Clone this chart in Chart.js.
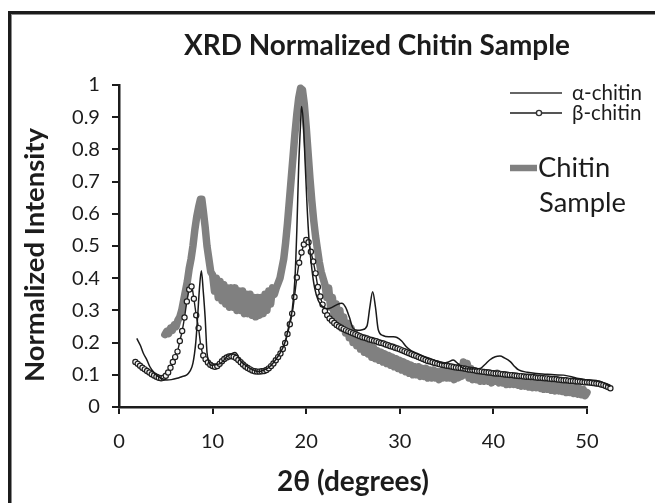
<!DOCTYPE html>
<html><head><meta charset="utf-8">
<script src="https://cdn.jsdelivr.net/npm/chart.js@4.4.1/dist/chart.umd.min.js"></script>
<style>
html,body{margin:0;padding:0;background:#fff;width:655px;height:503px;overflow:hidden}
#frame{position:absolute;left:8px;top:11px;width:700px;height:600px;border-left:3px solid #1c1c1c;border-top:3px solid #1c1c1c;box-shadow:inset 1px 1px 0 #8c8c8c}
#c{position:absolute;left:0;top:0}
</style></head><body>
<div id="frame"></div>
<canvas id="c" width="655" height="503"></canvas>
<script>
// ---- data ----
const chartTitle = 'XRD Normalized Chitin Sample';
const xTitle = '2θ (degrees)';
const yTitle = 'Normalized Intensity';
const seriesNames = ['α-chitin', 'β-chitin', 'Chitin'];
const seriesNames2 = ['', '', 'Sample'];
const xTickValues = [0, 10, 20, 30, 40, 50];
const xTickLabels = ['0', '10', '20', '30', '40', '50'];
const yTickValues = [0, 0.1, 0.2, 0.3, 0.4, 0.5, 0.6, 0.7, 0.8, 0.9, 1];
const yTickLabels = ['0', '0.1', '0.2', '0.3', '0.4', '0.5', '0.6', '0.7', '0.8', '0.9', '1'];

const alphaX = [1.9,2.3,2.6,3.0,3.3,3.8,4.2,4.7,5.1,5.6,6.2,6.7,7.2,7.6,7.9,8.2,8.4,8.6,8.8,9.0,9.2,9.4,9.6,9.9,10.4,10.8,11.2,11.5,12.0,12.4,12.7,12.9,13.4,14.0,14.5,14.9,15.5,16.1,16.7,17.2,17.6,17.9,18.2,18.5,18.8,19.0,19.2,19.4,19.5,19.7,19.9,20.1,20.3,20.6,20.9,21.3,21.8,22.3,22.8,23.3,23.8,24.2,24.6,25.0,25.5,26.0,26.5,26.8,27.1,27.4,27.7,28.2,28.8,29.3,29.7,30.2,30.7,31.2,31.8,32.5,33.2,34.0,34.7,35.2,35.7,36.2,36.8,37.6,38.6,39.1,39.6,40.2,40.7,41.2,41.8,42.3,42.7,43.6,44.6,45.5,46.5,47.5,48.2,48.9,49.8,51.0,51.8,52.5];
const alphaY = [0.213,0.19,0.167,0.145,0.125,0.105,0.094,0.087,0.084,0.085,0.089,0.094,0.099,0.112,0.136,0.2,0.28,0.37,0.423,0.36,0.28,0.17,0.14,0.13,0.132,0.135,0.145,0.156,0.165,0.169,0.16,0.146,0.132,0.12,0.113,0.11,0.115,0.125,0.145,0.167,0.19,0.218,0.26,0.30,0.40,0.55,0.75,0.88,0.933,0.88,0.75,0.62,0.52,0.43,0.37,0.33,0.31,0.305,0.31,0.318,0.322,0.31,0.28,0.245,0.238,0.24,0.252,0.31,0.358,0.31,0.24,0.222,0.218,0.218,0.216,0.205,0.187,0.175,0.167,0.158,0.151,0.142,0.136,0.14,0.146,0.135,0.12,0.118,0.12,0.132,0.146,0.156,0.158,0.152,0.141,0.125,0.115,0.108,0.104,0.102,0.10,0.099,0.095,0.089,0.085,0.082,0.075,0.063];

const betaX = [1.75,2,2.25,2.5,2.75,3,3.25,3.5,3.75,4,4.25,4.5,4.75,5,5.25,5.5,5.75,6,6.25,6.5,6.75,7,7.25,7.5,7.75,8,8.25,8.5,8.75,9,9.25,9.5,9.75,10,10.25,10.5,10.75,11,11.25,11.5,11.75,12,12.25,12.5,12.75,13,13.25,13.5,13.75,14,14.25,14.5,14.75,15,15.25,15.5,15.75,16,16.25,16.5,16.75,17,17.25,17.5,17.75,18,18.25,18.5,18.75,19,19.25,19.5,19.75,20,20.25,20.5,20.75,21,21.25,21.5,21.75,22,22.25,22.5,22.75,23,23.25,23.5,23.75,24,24.25,24.5,24.75,25,25.25,25.5,25.75,26,26.25,26.5,26.75,27,27.25,27.5,27.75,28,28.25,28.5,28.75,29,29.25,29.5,29.75,30,30.25,30.5,30.75,31,31.25,31.5,31.75,32,32.25,32.5,32.75,33,33.25,33.5,33.75,34,34.25,34.5,34.75,35,35.25,35.5,35.75,36,36.25,36.5,36.75,37,37.25,37.5,37.75,38,38.25,38.5,38.75,39,39.25,39.5,39.75,40,40.25,40.5,40.75,41,41.25,41.5,41.75,42,42.25,42.5,42.75,43,43.25,43.5,43.75,44,44.25,44.5,44.75,45,45.25,45.5,45.75,46,46.25,46.5,46.75,47,47.25,47.5,47.75,48,48.25,48.5,48.75,49,49.25,49.5,49.75,50,50.25,50.5,50.75,51,51.25,51.5,51.75,52,52.25,52.5];
const betaY = [0.140,0.134,0.128,0.122,0.117,0.112,0.107,0.102,0.098,0.094,0.091,0.089,0.091,0.097,0.107,0.122,0.140,0.155,0.172,0.205,0.236,0.278,0.328,0.365,0.374,0.336,0.285,0.245,0.188,0.160,0.148,0.138,0.131,0.127,0.125,0.127,0.134,0.142,0.149,0.154,0.157,0.158,0.156,0.152,0.146,0.139,0.132,0.126,0.121,0.117,0.113,0.111,0.110,0.110,0.111,0.112,0.115,0.120,0.127,0.135,0.145,0.155,0.166,0.180,0.199,0.227,0.257,0.290,0.342,0.402,0.448,0.480,0.505,0.519,0.512,0.482,0.452,0.415,0.373,0.343,0.318,0.298,0.285,0.275,0.268,0.261,0.255,0.250,0.246,0.242,0.238,0.235,0.232,0.229,0.226,0.223,0.220,0.217,0.215,0.213,0.210,0.208,0.206,0.204,0.201,0.199,0.197,0.194,0.192,0.189,0.187,0.184,0.182,0.179,0.176,0.173,0.170,0.167,0.164,0.161,0.158,0.155,0.152,0.149,0.146,0.143,0.141,0.139,0.137,0.135,0.133,0.131,0.130,0.128,0.127,0.126,0.124,0.123,0.122,0.121,0.120,0.119,0.117,0.116,0.115,0.114,0.112,0.111,0.110,0.109,0.108,0.107,0.106,0.105,0.104,0.104,0.103,0.102,0.101,0.100,0.099,0.099,0.098,0.097,0.096,0.096,0.095,0.094,0.094,0.093,0.093,0.092,0.091,0.091,0.090,0.089,0.089,0.088,0.087,0.087,0.086,0.085,0.084,0.083,0.083,0.082,0.081,0.081,0.080,0.079,0.079,0.078,0.077,0.077,0.076,0.075,0.074,0.073,0.072,0.070,0.068,0.065,0.062,0.058];

const sampleX = [4.9,5.1,5.3,5.5,5.7,5.9,6.1,6.3,6.5,6.7,6.9,7.1,7.3,7.5,7.7,7.9,8.1,8.3,8.5,8.7,8.85,9.0,9.2,9.4,9.6,9.8,10.0,10.2,10.4,10.6,10.8,11.0,11.2,11.4,11.6,11.8,12.0,12.2,12.4,12.6,12.8,13.0,13.2,13.4,13.6,13.8,14.0,14.2,14.4,14.6,14.8,15.0,15.2,15.4,15.6,15.8,16.0,16.2,16.4,16.6,16.8,17.0,17.2,17.4,17.6,17.8,18.0,18.2,18.4,18.6,18.8,19.0,19.2,19.4,19.6,19.8,20.0,20.2,20.4,20.6,20.8,21.0,21.2,21.4,21.6,21.8,22.0,22.2,22.4,22.6,22.8,23.0,23.2,23.4,23.6,23.8,24.0,24.2,24.4,24.6,24.8,25.0,25.2,25.4,25.6,25.8,26.0,26.2,26.4,26.6,26.8,27.0,27.2,27.4,27.6,27.8,28.0,28.2,28.4,28.6,28.8,29.0,29.2,29.4,29.6,29.8,30.0,30.2,30.4,30.6,30.8,31.0,31.2,31.4,31.6,31.8,32.0,32.2,32.4,32.6,32.8,33.0,33.2,33.4,33.6,33.8,34.0,34.2,34.4,34.6,34.8,35.0,35.2,35.4,35.6,35.8,36.0,36.2,36.4,36.6,36.8,37.0,37.2,37.4,37.6,37.8,38.0,38.2,38.4,38.6,38.8,39.0,39.2,39.4,39.6,39.8,40.0,40.2,40.4,40.6,40.8,41.0,41.2,41.4,41.6,41.8,42.0,42.2,42.4,42.6,42.8,43.0,43.2,43.4,43.6,43.8,44.0,44.2,44.4,44.6,44.8,45.0,45.2,45.4,45.6,45.8,46.0,46.2,46.4,46.6,46.8,47.0,47.2,47.4,47.6,47.8,48.0,48.2,48.4,48.6,48.8,49.0,49.2,49.4,49.6,49.8,50.0];
const sampleY = [0.225,0.235,0.228,0.245,0.238,0.255,0.25,0.27,0.28,0.30,0.33,0.36,0.39,0.43,0.46,0.50,0.55,0.59,0.62,0.645,0.645,0.61,0.56,0.50,0.46,0.42,0.41,0.36,0.40,0.34,0.39,0.33,0.38,0.32,0.37,0.31,0.37,0.31,0.37,0.30,0.36,0.30,0.36,0.29,0.35,0.29,0.35,0.285,0.34,0.28,0.34,0.285,0.34,0.29,0.35,0.30,0.36,0.32,0.37,0.35,0.37,0.385,0.40,0.43,0.46,0.51,0.57,0.64,0.71,0.78,0.85,0.91,0.96,0.99,0.985,0.94,0.87,0.79,0.71,0.64,0.58,0.53,0.49,0.45,0.42,0.40,0.38,0.34,0.37,0.31,0.34,0.28,0.32,0.26,0.30,0.245,0.28,0.23,0.26,0.215,0.245,0.20,0.23,0.19,0.215,0.18,0.205,0.17,0.195,0.165,0.19,0.155,0.185,0.15,0.175,0.145,0.17,0.14,0.165,0.135,0.16,0.13,0.155,0.125,0.15,0.12,0.145,0.115,0.14,0.11,0.135,0.105,0.13,0.10,0.125,0.10,0.125,0.095,0.12,0.095,0.12,0.09,0.115,0.09,0.115,0.09,0.11,0.085,0.11,0.09,0.115,0.09,0.12,0.09,0.115,0.085,0.11,0.09,0.125,0.095,0.14,0.10,0.135,0.09,0.12,0.085,0.11,0.085,0.105,0.08,0.105,0.08,0.10,0.08,0.105,0.075,0.10,0.08,0.105,0.075,0.10,0.075,0.10,0.07,0.095,0.07,0.095,0.07,0.09,0.068,0.09,0.065,0.09,0.065,0.085,0.062,0.085,0.06,0.085,0.06,0.08,0.058,0.08,0.055,0.078,0.055,0.075,0.052,0.075,0.05,0.072,0.05,0.07,0.048,0.068,0.045,0.066,0.045,0.064,0.042,0.06,0.04,0.058,0.038,0.055,0.035,0.045];

// ---- rendering ----
const FONT = 'Lato';
function fitSize(text, weight, target) {
  const c = document.createElement('canvas').getContext('2d');
  c.font = weight + ' 100px ' + FONT;
  return 100 * target / c.measureText(text).width;
}
function pts(xs, ys) { return xs.map((x, i) => ({x: x, y: ys[i]})); }

function build() {
  const titleSize = fitSize(chartTitle, 'bold', 386);
  const yTitleSize = fitSize(yTitle, 'bold', 254);
  const xTitleSize = fitSize(xTitle, 'bold', 152);
  const tickSize = fitSize('0.9', 'normal', 28);
  const legSize = fitSize(seriesNames[0], 'normal', 70);
  const leg2Size = fitSize(seriesNames2[2], 'normal', 87);
  const ink = '#1c1c1c';

  // lets the markers past x = 50 be drawn (the data runs a little beyond the axis end)
  const widenArea = {
    id: 'widenArea',
    beforeDatasetsDraw(chart) { chart._savedRight = chart.chartArea.right; chart.chartArea.right = chart.width; },
    afterDatasetsDraw(chart) { chart.chartArea.right = chart._savedRight; }
  };

  const textPlugin = {
    id: 'texts',
    afterDraw(chart) {
      const ctx = chart.ctx, ca = chart.chartArea;
      ctx.save();
      ctx.fillStyle = ink;
      ctx.textAlign = 'center';
      ctx.textBaseline = 'middle';
      ctx.font = 'bold ' + titleSize + 'px ' + FONT;
      ctx.fillText(chartTitle, 377, 46);
      ctx.font = 'bold ' + xTitleSize + 'px ' + FONT;
      ctx.fillText(xTitle, (ca.left + ca.right) / 2, 482);
      ctx.save();
      ctx.translate(35, 255);
      ctx.rotate(-Math.PI / 2);
      ctx.font = 'bold ' + yTitleSize + 'px ' + FONT;
      ctx.fillText(yTitle, 0, 0);
      ctx.restore();
      // legend
      ctx.textAlign = 'left';
      ctx.strokeStyle = '#333';
      ctx.lineWidth = 1.5;
      ctx.beginPath(); ctx.moveTo(510, 93); ctx.lineTo(562, 93); ctx.stroke();
      ctx.strokeStyle = '#555';
      ctx.lineWidth = 2;
      ctx.beginPath(); ctx.moveTo(510, 113); ctx.lineTo(562, 113); ctx.stroke();
      ctx.fillStyle = '#fff'; ctx.strokeStyle = '#333'; ctx.lineWidth = 1.4;
      ctx.beginPath(); ctx.arc(539, 113, 2.6, 0, Math.PI * 2); ctx.fill(); ctx.stroke();
      ctx.strokeStyle = '#808080'; ctx.lineWidth = 6.5;
      ctx.beginPath(); ctx.moveTo(510, 168); ctx.lineTo(537, 168); ctx.stroke();
      ctx.fillStyle = ink;
      ctx.font = legSize + 'px ' + FONT;
      ctx.fillText(seriesNames[0], 572, 93);
      ctx.fillText(seriesNames[1], 572, 113);
      ctx.font = leg2Size + 'px ' + FONT;
      ctx.fillText(seriesNames[2], 538, 168);
      ctx.fillText(seriesNames2[2], 539, 203);
      ctx.restore();
    }
  };

  const axisCommon = {
    type: 'linear',
    grid: {display: true, drawOnChartArea: false, drawTicks: true, tickLength: 7, color: '#1c1c1c', lineWidth: 2},
    border: {display: true, color: '#1c1c1c', width: 2.5},
    title: {display: false}
  };

  new Chart(document.getElementById('c'), {
    type: 'line',
    data: {
      datasets: [
        {label: seriesNames[0], data: pts(alphaX, alphaY), borderColor: '#1a1a1a', borderWidth: 1.5,
          pointRadius: 0, tension: 0.3, cubicInterpolationMode: 'monotone', clip: false, order: 1},
        {label: seriesNames[1], data: pts(betaX, betaY), borderColor: '#1e1e1e', borderWidth: 1.4,
          pointRadius: 2.6, pointBorderWidth: 1.2, pointBorderColor: '#1e1e1e', pointBackgroundColor: '#f4f4f4',
          pointStyle: 'circle', tension: 0.3, cubicInterpolationMode: 'monotone', clip: false, order: 2},
        {label: seriesNames[2] + ' ' + seriesNames2[2], data: pts(sampleX, sampleY), borderColor: '#808080', borderWidth: 7.5,
          borderJoinStyle: 'round', borderCapStyle: 'round', pointRadius: 0, tension: 0, clip: false, order: 3}
      ]
    },
    options: {
      responsive: false, animation: false, devicePixelRatio: 1,
      layout: {padding: {left: 0, right: 68, top: 85, bottom: 0}},
      plugins: {legend: {display: false}, tooltip: {enabled: false}, title: {display: false}},
      scales: {
        x: Object.assign({}, axisCommon, {
          afterDataLimits: s => { s.min = 0; s.max = 50; },
          afterFit: s => { s.height = 96; },
          afterBuildTicks: s => { s.ticks = xTickValues.map(v => ({value: v})); },
          ticks: {callback: (v, i) => xTickLabels[i], font: {family: FONT, size: tickSize}, color: ink,
            padding: 16, maxRotation: 0, autoSkip: false}
        }),
        y: Object.assign({}, axisCommon, {
          min: 0, max: 1,
          afterFit: s => { s.width = 119; },
          afterBuildTicks: s => { s.ticks = yTickValues.map(v => ({value: v})); },
          ticks: {callback: (v, i) => yTickLabels[i], font: {family: FONT, size: tickSize}, color: ink,
            padding: 12, autoSkip: false}
        })
      }
    },
    plugins: [widenArea, textPlugin]
  });
}

Promise.all([
  document.fonts.load('bold 20px Lato'),
  document.fonts.load('20px Lato')
]).then(build, build);
</script>
</body></html>
